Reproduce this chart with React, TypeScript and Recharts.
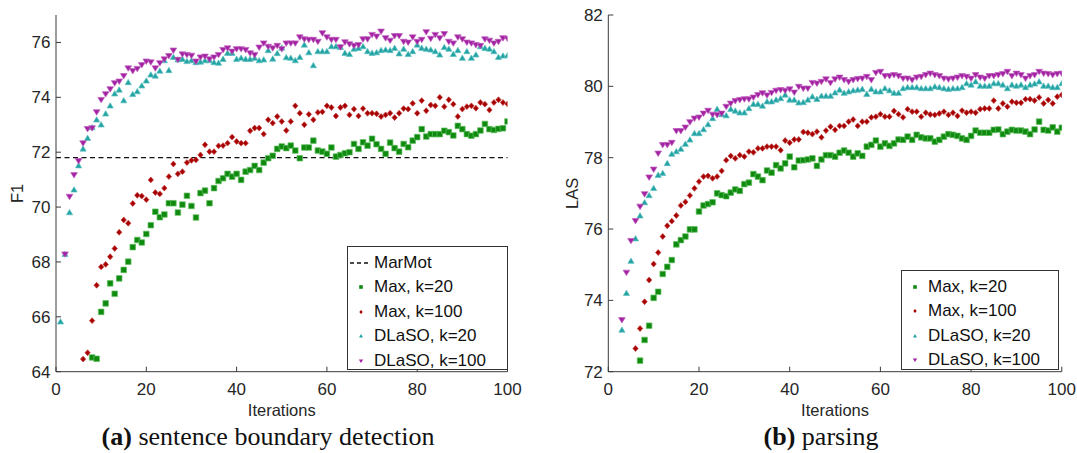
import { ScatterChart, Scatter, XAxis, YAxis, ReferenceLine } from 'recharts';

const iterTicks = [0, 20, 40, 60, 80, 100];
const f1Ticks = [64, 66, 68, 70, 72, 74, 76];
const lasTicks = [72, 74, 76, 78, 80, 82];
const marmotF1 = 71.8;

// (a) sentence boundary detection, F1
const sbdMax20Start = 8;
const sbdMax20 = [
  64.52, 64.47, 66.18, 66.49, 67.22, 66.84, 67.4, 67.71, 68.01, 68.54, 68.8, 68.71, 69.02, 69.34, 69.83,
  69.63, 69.73, 70.14, 70.14, 69.8, 70.09, 70.41, 70.04, 69.62, 70.51, 70.6, 70.14, 70.69, 70.95, 71.05,
  71.21, 71.11, 71.21, 70.99, 71.29, 71.35, 71.5, 71.35, 71.62, 71.78, 71.87, 72.12, 72.21, 72.15, 72.24,
  72.06, 71.78, 72.17, 72.17, 72.42, 72.06, 72.02, 71.94, 72.17, 71.84, 71.9, 71.96, 72.0, 72.3, 72.12,
  72.36, 72.24, 72.49, 72.29, 72.12, 71.94, 72.35, 72.15, 72.02, 72.3, 72.18, 72.42, 72.55, 72.84, 72.57,
  72.66, 72.66, 72.66, 72.78, 72.73, 72.61, 72.96, 72.84, 72.66, 72.6, 72.66, 72.79, 73.03, 72.84, 72.81,
  72.85, 72.87, 73.12,
];
const sbdMax100Start = 6;
const sbdMax100 = [
  64.46, 64.69, 65.86, 67.15, 67.82, 67.91, 68.19, 68.49, 69.08, 69.53, 69.41, 70.13, 70.43, 70.4, 70.27,
  70.99, 70.53, 70.48, 70.69, 71.11, 71.57, 71.21, 71.29, 71.62, 71.7, 71.72, 71.9, 72.27, 72.02, 72.02,
  72.23, 72.24, 72.33, 72.55, 72.39, 72.33, 72.33, 72.78, 72.88, 72.88, 72.66, 73.18, 73.06, 73.3, 73.12,
  72.79, 73.12, 73.69, 73.42, 73.0, 73.38, 73.18, 73.45, 73.47, 73.69, 73.63, 73.32, 73.63, 73.69, 73.36,
  73.57, 73.32, 73.59, 73.42, 73.42, 73.4, 73.3, 73.36, 73.42, 73.26, 73.42, 73.59, 73.57, 73.78, 73.42,
  73.88, 73.51, 73.72, 73.69, 74.0, 73.66, 73.91, 73.75, 73.3, 73.57, 73.66, 73.69, 73.6, 73.81, 73.75,
  73.54, 73.81, 73.91, 73.81, 73.76,
];
const sbdDlaso20Start = 1;
const sbdDlaso20 = [
  65.82, 68.28, 69.8, 70.63, 71.51, 72.12, 72.51, 72.9, 73.18, 73.0, 73.4, 73.69, 74.13, 74.27, 73.88,
  74.54, 74.11, 74.21, 74.42, 74.6, 74.82, 74.78, 74.96, 75.34, 74.98, 75.46, 75.37, 75.39, 75.31, 75.34,
  75.27, 75.29, 75.34, 75.34, 75.27, 75.25, 75.39, 75.61, 75.61, 75.39, 75.43, 75.39, 75.39, 75.43, 75.34,
  75.37, 75.71, 75.4, 75.6, 75.8, 75.45, 75.43, 75.34, 75.46, 75.91, 75.63, 75.16, 75.67, 75.67, 75.67,
  75.85, 75.85, 75.82, 75.61, 75.57, 75.76, 75.79, 75.85, 75.67, 75.61, 75.63, 75.71, 75.73, 75.71, 75.79,
  75.59, 75.76, 75.57, 75.67, 75.91, 75.79, 75.76, 75.73, 75.67, 75.55, 75.82, 75.76, 75.57, 75.71, 75.43,
  75.67, 75.43, 75.55, 75.85, 75.79, 75.76, 75.67, 75.46, 75.51, 75.52,
];
const sbdDlaso100Start = 2;
const sbdDlaso100 = [
  68.28, 70.38, 71.17, 71.68, 72.33, 72.85, 72.88, 73.46, 73.91, 74.12, 74.3, 74.52, 74.58, 74.78, 75.06,
  74.96, 75.04, 75.18, 75.31, 75.28, 75.06, 75.25, 75.39, 75.51, 75.71, 75.37, 75.57, 75.55, 75.52, 75.31,
  75.46, 75.49, 75.39, 75.46, 75.55, 75.73, 75.79, 75.67, 75.76, 75.76, 75.73, 75.61, 75.55, 75.82, 75.97,
  75.85, 75.79, 75.88, 75.76, 75.97, 75.97, 75.97, 76.19, 76.12, 76.1, 76.1, 76.03, 76.34, 76.19, 76.1,
  76.1, 75.83, 76.01, 75.94, 75.88, 75.91, 76.12, 76.12, 76.28, 76.22, 76.4, 76.16, 76.07, 76.24, 76.24,
  76.03, 76.0, 76.19, 76.03, 76.1, 76.38, 76.14, 76.28, 76.16, 76.31, 76.03, 75.97, 76.19, 76.12, 76.0,
  75.97, 75.91, 75.88, 76.12, 76.07, 75.97, 76.03, 76.16, 76.14,
];

// (b) parsing, LAS
const parMax20Start = 7;
const parMax20 = [
  72.31, 72.89, 73.29, 74.07, 74.24, 74.74, 74.94, 75.13, 75.57, 75.69, 75.79, 75.99, 75.99, 76.49, 76.66,
  76.7, 76.75, 77.0, 76.95, 76.92, 77.02, 77.11, 77.07, 77.26, 77.3, 77.54, 77.47, 77.37, 77.64, 77.58,
  77.79, 77.7, 77.84, 78.03, 77.73, 77.92, 77.93, 77.95, 77.98, 77.77, 77.95, 78.07, 78.07, 78.03, 78.14,
  78.2, 78.14, 78.03, 78.12, 78.05, 78.31, 78.36, 78.48, 78.31, 78.4, 78.33, 78.4, 78.51, 78.5, 78.59,
  78.5, 78.64, 78.57, 78.54, 78.54, 78.45, 78.5, 78.59, 78.66, 78.64, 78.61, 78.54, 78.5, 78.61, 78.76,
  78.7, 78.7, 78.7, 78.78, 78.79, 78.66, 78.73, 78.78, 78.76, 78.76, 78.73, 78.66, 78.79, 79.01, 78.78,
  78.76, 78.85, 78.73, 78.84,
];
const parMax100Start = 6;
const parMax100 = [
  72.65, 73.21, 73.96, 74.57, 75.02, 75.34, 75.79, 76.09, 76.22, 76.38, 76.66, 76.76, 76.94, 77.14, 77.33,
  77.47, 77.49, 77.42, 77.47, 77.63, 77.93, 78.05, 77.98, 78.07, 78.03, 78.17, 78.15, 78.26, 78.26, 78.31,
  78.31, 78.31, 78.21, 78.48, 78.42, 78.51, 78.51, 78.72, 78.7, 78.66, 78.73, 78.57, 78.76, 78.87, 78.78,
  78.89, 78.89, 79.01, 79.07, 78.89, 79.01, 79.01, 79.13, 79.15, 79.22, 79.15, 79.15, 79.31, 79.22, 79.13,
  79.36, 79.29, 79.29, 79.15, 79.26, 79.21, 79.2, 79.24, 79.29, 79.2, 79.26, 79.17, 79.32, 79.26, 79.29,
  79.26, 79.36, 79.38, 79.38, 79.6, 79.38, 79.52, 79.43, 79.57, 79.54, 79.54, 79.64, 79.64, 79.6, 79.69,
  79.52, 79.62, 79.52, 79.71, 79.76,
];
const parDlaso20Start = 3;
const parDlaso20 = [
  73.17, 74.2, 75.1, 75.73, 76.37, 76.74, 76.94, 77.14, 77.51, 77.56, 77.84, 78.1, 78.17, 78.24, 78.38,
  78.5, 78.68, 78.68, 78.79, 78.93, 79.1, 79.36, 79.21, 79.18, 79.36, 79.31, 79.26, 79.26, 79.38, 79.5,
  79.5, 79.45, 79.57, 79.57, 79.62, 79.66, 79.76, 79.62, 79.62, 79.54, 79.55, 79.62, 79.71, 79.64, 79.73,
  79.73, 79.73, 79.82, 79.9, 79.81, 79.85, 79.88, 79.9, 79.92, 79.78, 79.92, 79.85, 79.85, 79.94, 79.88,
  79.81, 79.81, 79.94, 79.97, 79.97, 79.97, 79.94, 79.94, 79.94, 79.99, 79.97, 79.94, 79.92, 79.94, 79.94,
  79.97, 80.08, 80.04, 80.13, 80.01, 80.01, 80.01, 80.08, 80.08, 80.04, 79.94, 80.04, 80.01, 80.04, 79.97,
  80.04, 80.07, 80.13, 80.01, 80.01, 79.97, 79.97, 80.08,
];
const parDlaso100Start = 3;
const parDlaso100 = [
  73.45, 74.78, 75.67, 76.23, 76.63, 76.98, 77.45, 77.67, 78.12, 78.36, 78.36, 78.42, 78.75, 78.75, 78.85,
  79.0, 79.1, 79.13, 79.24, 79.32, 79.21, 79.2, 79.24, 79.43, 79.52, 79.59, 79.62, 79.64, 79.64, 79.69,
  79.76, 79.81, 79.75, 79.82, 79.88, 79.9, 79.88, 79.92, 79.83, 79.99, 79.94, 79.94, 80.1, 80.08, 80.13,
  80.2, 80.1, 80.2, 80.25, 80.18, 80.13, 80.18, 80.21, 80.22, 80.27, 80.18, 80.38, 80.41, 80.29, 80.29,
  80.32, 80.29, 80.22, 80.22, 80.18, 80.25, 80.27, 80.32, 80.36, 80.32, 80.29, 80.22, 80.2, 80.22, 80.25,
  80.29, 80.27, 80.22, 80.32, 80.25, 80.22, 80.29, 80.29, 80.32, 80.35, 80.41, 80.29, 80.36, 80.32, 80.22,
  80.29, 80.32, 80.41, 80.36, 80.35, 80.32, 80.35, 80.36,
];

const toPoints = (start: number, values: number[]) => values.map((y, i) => ({ x: start + i, y }));

type Kind = 'square' | 'diamond' | 'up' | 'down';

const styles: Record<string, { name: string; kind: Kind; fill: string; edge: string }> = {
  max20: { name: 'Max, k=20', kind: 'square', fill: '#0f8a0f', edge: '#62c062' },
  max100: { name: 'Max, k=100', kind: 'diamond', fill: '#a80000', edge: '#c03a3a' },
  dlaso20: { name: 'DLaSO, k=20', kind: 'up', fill: '#22a2a2', edge: '#5cc0c0' },
  dlaso100: { name: 'DLaSO, k=100', kind: 'down', fill: '#a222a2', edge: '#c060c0' },
};

function markerPath(kind: Kind, cx: number, cy: number, s: number) {
  switch (kind) {
    case 'square':
      return `M${cx - s},${cy - s}h${2 * s}v${2 * s}h${-2 * s}Z`;
    case 'diamond':
      return `M${cx},${cy - s * 1.05}L${cx + s * 0.95},${cy}L${cx},${cy + s * 1.05}L${cx - s * 0.95},${cy}Z`;
    case 'up':
      return `M${cx},${cy - s * 1.1}L${cx + s * 1.1},${cy + s * 0.8}L${cx - s * 1.1},${cy + s * 0.8}Z`;
    default:
      return `M${cx},${cy + s * 1.1}L${cx + s * 1.2},${cy - s * 0.85}L${cx - s * 1.2},${cy - s * 0.85}Z`;
  }
}

const makeShape = (key: string) => (props: any) => {
  const st = styles[key];
  return (
    <path d={markerPath(st.kind, props.cx, props.cy, 2.8)} fill={st.fill} stroke={st.edge} strokeWidth={0.7} />
  );
};

const axisColor = '#3a3a3a';
const tickStyle = { fontSize: 17, fill: '#262626', fontFamily: 'Liberation Sans, Arial, sans-serif' };

interface PanelProps {
  left: number;
  width: number;
  yWidth: number;
  marginRight: number;
  yLabel: string;
  yLabelX: number;
  yTicks: number[];
  series: { key: string; start: number; values: number[] }[];
  marmot?: number;
}

function Panel({ left, width, yWidth, marginRight, yLabel, yLabelX, yTicks, series, marmot }: PanelProps) {
  const yDomain = [yTicks[0], yTicks[yTicks.length - 1] + (marmot ? 1 : 0)];
  return (
    <div style={{ position: 'absolute', left, top: 0 }}>
      <ScatterChart width={width} height={430} margin={{ top: 15, right: marginRight, bottom: 13.3, left: 0 }}>
        <XAxis
          dataKey="x"
          type="number"
          domain={[0, 100]}
          ticks={iterTicks}
          allowDataOverflow
          height={45}
          tickSize={-5}
          tickMargin={16}
          tick={tickStyle}
          axisLine={{ stroke: axisColor }}
          tickLine={{ stroke: axisColor }}
          label={{ value: 'Iterations', position: 'insideBottom', offset: 1, style: { ...tickStyle, fontSize: 16.5 } }}
        />
        <XAxis
          xAxisId="top"
          orientation="top"
          type="number"
          domain={[0, 100]}
          ticks={iterTicks}
          height={0}
          tickSize={-5}
          tick={false}
          axisLine={{ stroke: axisColor }}
          tickLine={{ stroke: axisColor }}
        />
        <YAxis
          dataKey="y"
          type="number"
          domain={yDomain}
          ticks={yTicks}
          allowDataOverflow
          width={yWidth}
          tickSize={-5}
          tickMargin={10.5}
          tick={tickStyle}
          axisLine={{ stroke: axisColor }}
          tickLine={{ stroke: axisColor }}
          label={{
            content: (p: any) => {
              const vb = p.viewBox;
              const cy = vb.y + vb.height / 2;
              return (
                <text x={yLabelX} y={cy} transform={`rotate(-90, ${yLabelX}, ${cy})`} textAnchor="middle" style={{ ...tickStyle, fontSize: 16.5 }}>
                  {yLabel}
                </text>
              );
            },
          }}
        />
        <YAxis
          yAxisId="right"
          orientation="right"
          type="number"
          domain={yDomain}
          ticks={yTicks}
          width={0}
          tickSize={-5}
          tick={false}
          axisLine={{ stroke: '#6a6a6a' }}
          tickLine={{ stroke: axisColor }}
        />
        {marmot !== undefined && (
          <ReferenceLine y={marmot} stroke="#111" strokeWidth={1.3} strokeDasharray="5 3.5" />
        )}
        {series.map((s) => (
          <Scatter
            key={s.key}
            name={styles[s.key].name}
            data={toPoints(s.start, s.values)}
            shape={makeShape(s.key)}
            isAnimationActive={false}
          />
        ))}
      </ScatterChart>
    </div>
  );
}

function LegendSymbol({ kind, fill }: { kind: Kind | 'dash'; fill: string }) {
  return (
    <svg width={24} height={12} style={{ position: 'absolute', left: 1, top: 6 }}>
      {kind === 'dash' ? (
        <line x1={1} y1={6} x2={22} y2={6} stroke="#111" strokeWidth={1.3} strokeDasharray="4 3" />
      ) : (
        <path d={markerPath(kind, 12, 6, 1.8)} fill={fill} />
      )}
    </svg>
  );
}

function LegendBox({ left, top, width, height, keys, marmot }: { left: number; top: number; width: number; height: number; keys: string[]; marmot?: boolean }) {
  const rows: { label: string; kind: Kind | 'dash'; fill: string }[] = [];
  if (marmot) rows.push({ label: 'MarMot', kind: 'dash', fill: '#111' });
  keys.forEach((k) => rows.push({ label: styles[k].name, kind: styles[k].kind, fill: styles[k].fill }));
  return (
    <div
      style={{
        position: 'absolute',
        left,
        top,
        width,
        height,
        boxSizing: 'border-box',
        border: '1px solid #333',
        background: '#fff',
        fontFamily: 'Liberation Sans, Arial, sans-serif',
        fontSize: 17,
        color: '#111',
      }}
    >
      {rows.map((r, i) => (
        <div key={r.label} style={{ position: 'absolute', left: 0, top: 4 + i * 24.4, height: 24, width: '100%' }}>
          <LegendSymbol kind={r.kind} fill={r.fill} />
          <span style={{ position: 'absolute', left: 26, top: 1, lineHeight: '22px', whiteSpace: 'nowrap' }}>{r.label}</span>
        </div>
      ))}
    </div>
  );
}

const captionStyle = {
  position: 'absolute' as const,
  top: 422,
  width: 500,
  textAlign: 'center' as const,
  fontFamily: 'Liberation Serif, Times New Roman, serif',
  fontSize: 26,
  lineHeight: '30px',
  whiteSpace: 'nowrap' as const,
  color: '#111',
};

export default function App() {
  const keys = ['max20', 'max100', 'dlaso20', 'dlaso100'];
  return (
    <div style={{ position: 'absolute', left: 0, top: 0, width: 1077, height: 453, background: '#fff', overflow: 'hidden' }}>
      <Panel
        left={0}
        width={540}
        yWidth={56}
        marginRight={32.5}
        yLabel="F1"
        yLabelX={23}
        yTicks={f1Ticks}
        marmot={marmotF1}
        series={[
          { key: 'max20', start: sbdMax20Start, values: sbdMax20 },
          { key: 'max100', start: sbdMax100Start, values: sbdMax100 },
          { key: 'dlaso20', start: sbdDlaso20Start, values: sbdDlaso20 },
          { key: 'dlaso100', start: sbdDlaso100Start, values: sbdDlaso100 },
        ]}
      />
      <Panel
        left={540}
        width={537}
        yWidth={68.3}
        marginRight={15.2}
        yLabel="LAS"
        yLabelX={38}
        yTicks={lasTicks}
        series={[
          { key: 'max20', start: parMax20Start, values: parMax20 },
          { key: 'max100', start: parMax100Start, values: parMax100 },
          { key: 'dlaso20', start: parDlaso20Start, values: parDlaso20 },
          { key: 'dlaso100', start: parDlaso100Start, values: parDlaso100 },
        ]}
      />
      <LegendBox left={347} top={246} width={161} height={124} keys={keys} marmot />
      <LegendBox left={901} top={270} width={158} height={100} keys={keys} />
      <div style={{ ...captionStyle, left: 268 - 250 }}>
        <b>(a)</b> sentence boundary detection
      </div>
      <div style={{ ...captionStyle, left: 821 - 250 }}>
        <b>(b)</b> parsing
      </div>
    </div>
  );
}
